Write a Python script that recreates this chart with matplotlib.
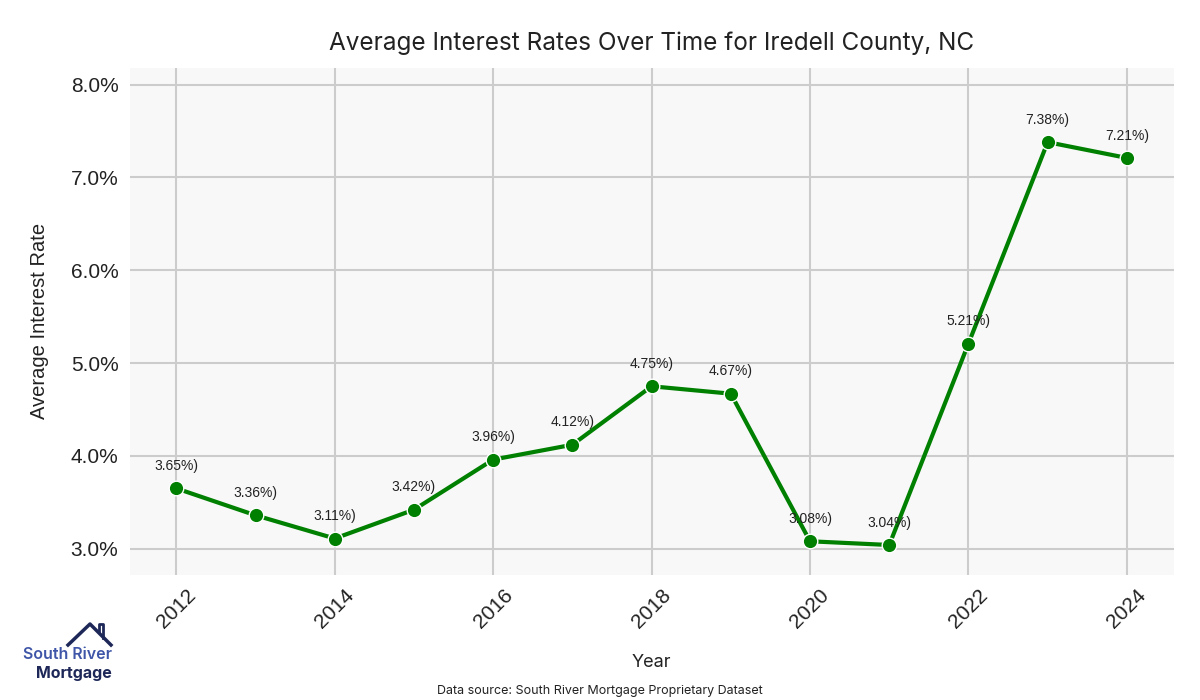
import matplotlib
matplotlib.use('agg')
import matplotlib.pyplot as plt
import numpy as np

years = [2012, 2013, 2014, 2015, 2016, 2017, 2018, 2019, 2020, 2021, 2022, 2023, 2024]
rates = [3.65, 3.36, 3.11, 3.42, 3.96, 4.12, 4.75, 4.67, 3.08, 3.04, 5.21, 7.38, 7.21]
point_labels = ['3.65%)', '3.36%)', '3.11%)', '3.42%)', '3.96%)', '4.12%)', '4.75%)',
                '4.67%)', '3.08%)', '3.04%)', '5.21%)', '7.38%)', '7.21%)']
xticks = [2012, 2014, 2016, 2018, 2020, 2022, 2024]
yticks = [3.0, 4.0, 5.0, 6.0, 7.0, 8.0]

def main():
	fig = plt.figure(figsize=(12, 7), dpi=100)
	ax = fig.add_axes([0.108, 0.179, 0.870, 0.724])
	ax.set_facecolor('#f8f8f8')
	ax.grid(True, color='#cccccc', linewidth=1.5)
	ax.set_axisbelow(True)
	for s in ax.spines.values():
		s.set_visible(False)

	ax.plot(years, rates, color='#008000', linewidth=3, marker='o', markersize=10.5,
		markerfacecolor='#008000', markeredgecolor='white', markeredgewidth=1.0, zorder=3)
	for x, y, lab in zip(years, rates, point_labels):
		ax.annotate(lab, (x, y), xytext=(0, 11), textcoords='offset points', ha='center',
			va='bottom', fontsize=10, color='#222222', family='Liberation Sans')

	ax.set_xlim(2011.41, 2024.59)
	ax.set_ylim(2.72, 8.18)
	ax.set_xticks(xticks)
	ax.set_yticks(yticks)
	ax.set_yticklabels(['%.1f%%' % v for v in yticks])
	ax.tick_params(axis='both', length=0, labelsize=15, labelcolor='#222222', pad=8)
	for lab in ax.get_xticklabels():
		lab.set_rotation(45)
		lab.set_family('Liberation Sans')
	for lab in ax.get_yticklabels():
		lab.set_family('Liberation Sans')

	ax.set_ylabel('Average Interest Rate', fontsize=14.5, color='#222222', family='Liberation Sans', labelpad=16)
	fig.text(0.543, 0.047, 'Year', ha='center', fontsize=13, color='#222222', family='Inter')
	fig.text(0.543, 0.928, 'Average Interest Rates Over Time for Iredell County, NC', ha='center',
		fontsize=17.5, color='#222222', family='Inter')
	fig.text(0.5, 0.008, 'Data source: South River Mortgage Proprietary Dataset', ha='center',
		fontsize=9, color='#222222', family='Inter')

	# logo
	fig.text(0.019, 0.058, 'South River', fontsize=11.5, color='#3f56a8', family='Inter', weight='semibold')
	fig.text(0.030, 0.031, 'Mortgage', fontsize=11.5, color='#1e2858', family='Inter', weight='bold')
	hx = [68/1200, 90/1200, 111/1200]
	hy = [1-645/700, 1-624/700, 1-645/700]
	fig.add_artist(plt.Line2D(hx, hy, color='#1e2858', linewidth=2.5))
	fig.add_artist(plt.Line2D([99/1200, 99/1200, 103/1200, 103/1200], [1-632/700, 1-624/700, 1-624/700, 1-638/700],
		color='#1e2858', linewidth=2))

	fig.savefig('out.png', dpi=100, facecolor='white')

main()
